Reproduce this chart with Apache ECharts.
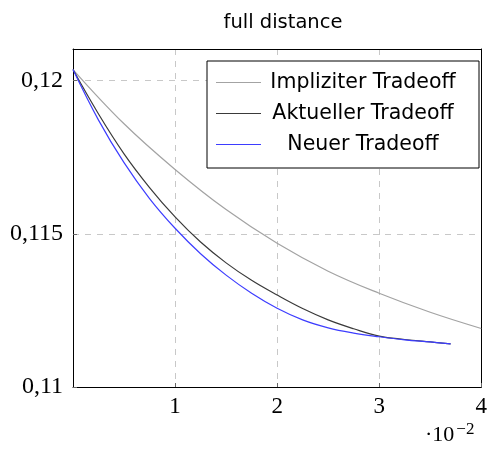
<!DOCTYPE html>
<html>
<head>
<meta charset="utf-8">
<script src="https://cdn.jsdelivr.net/npm/echarts@6/dist/echarts.min.js"></script>
<style>
  html, body { margin: 0; padding: 0; background: #fff; }
  #chart { width: 490px; height: 449px; }
</style>
</head>
<body>
<div id="chart"></div>
<script>
// Tradeoff curves over the full distance (x in units of 10^-2)
const seriesNames = ['Impliziter Tradeoff', 'Aktueller Tradeoff', 'Neuer Tradeoff'];

const impliziterX = [0, 0.005, 0.01, 0.015, 0.02, 0.025, 0.03, 0.035, 0.04];
const impliziterY = [0.12036, 0.11859, 0.11710, 0.11579, 0.11469, 0.11378, 0.11306, 0.11244, 0.11191];

const aktuellerX = [0, 0.0025, 0.005, 0.0075, 0.01, 0.0125, 0.015, 0.0175, 0.02, 0.0225, 0.025, 0.0275, 0.03, 0.0325, 0.035, 0.037];
const aktuellerY = [0.12036, 0.11891, 0.11761, 0.11651, 0.11555, 0.11473, 0.11405, 0.11348, 0.11300, 0.11256, 0.11219, 0.11190, 0.11166, 0.11155, 0.11147, 0.11141];

const neuerX = [0, 0.0025, 0.005, 0.0075, 0.01, 0.0125, 0.015, 0.0175, 0.02, 0.0225, 0.025, 0.0275, 0.03, 0.0325, 0.035, 0.037];
const neuerY = [0.12036, 0.11871, 0.11732, 0.11615, 0.11518, 0.11435, 0.11365, 0.11306, 0.11257, 0.11219, 0.11193, 0.11176, 0.11164, 0.11154, 0.11147, 0.11141];

const yTickValues = [0.11, 0.115, 0.12];
const yTickLabels = ['0,11', '0,115', '0,12'];
const xTickValues = [0.01, 0.02, 0.03, 0.04];
const xTickLabels = ['1', '2', '3', '4'];

const pairs = (xs, ys) => xs.map((x, i) => [x, ys[i]]);

const serifFont = '"Liberation Serif", "DejaVu Serif", serif';
const sansFont = '"DejaVu Sans", "Liberation Sans", sans-serif';
const gridDash = { color: '#c8c8c8', type: [6, 6], width: 1 };

const xRange = { min: 0, max: 0.04, interval: 0.01 };
const yRange = { min: 0.11, max: 0.12103, interval: 0.005 };

const chart = echarts.init(document.getElementById('chart'), null, { renderer: 'canvas' });

function lineSeries(name, data, color) {
  return {
    name: name,
    type: 'line',
    data: data,
    smooth: 0.4,
    symbol: 'none',
    lineStyle: { color: color, width: 1.2 },
    itemStyle: { color: color },
    animation: false
  };
}

// frame axes on the opposite sides: solid line only
function frameAxis(pos, range) {
  return Object.assign({
    type: 'value', position: pos,
    axisLine: { show: true, onZero: false, lineStyle: { color: '#000', width: 1 } },
    axisTick: { show: false }, axisLabel: { show: false }, splitLine: { show: false }
  }, range);
}

chart.setOption({
  animation: false,
  title: {
    text: 'full distance',
    left: 278,
    top: 8,
    textAlign: 'center',
    textStyle: { fontFamily: sansFont, fontSize: 19.5, fontWeight: 'normal', color: '#000' }
  },
  grid: {
    left: 73, top: 49, right: 7, bottom: 62
  },
  legend: {
    orient: 'vertical',
    right: 11,
    top: 61,
    backgroundColor: '#fff',
    borderColor: '#000',
    borderWidth: 1,
    padding: [11, 19, 13, 9],
    icon: 'rect',
    itemWidth: 45,
    itemHeight: 1.2,
    itemGap: 10,
    data: seriesNames,
    formatter: name => '{t|' + name + '}',
    textStyle: {
      rich: {
        t: { fontFamily: sansFont, fontSize: 20.5, lineHeight: 20, color: '#000', width: 194, align: 'center' }
      }
    }
  },
  xAxis: [Object.assign({
    type: 'value',
    position: 'bottom',
    axisLine: { show: true, onZero: false, lineStyle: { color: '#000', width: 1 } },
    axisTick: { show: true, inside: true, length: 4, lineStyle: { color: '#666' } },
    splitLine: { show: true, showMinLine: false, showMaxLine: false, lineStyle: gridDash },
    axisLabel: {
      fontFamily: serifFont, fontSize: 23, color: '#000', margin: 8,
      showMinLabel: false,
      formatter: v => {
        const i = xTickValues.findIndex(t => Math.abs(t - v) < 1e-9);
        return i >= 0 ? xTickLabels[i] : '';
      }
    }
  }, xRange), frameAxis('top', xRange)],
  yAxis: [Object.assign({
    type: 'value',
    position: 'left',
    axisLine: { show: true, onZero: false, lineStyle: { color: '#000', width: 1 } },
    axisTick: { show: true, inside: true, length: 4, lineStyle: { color: '#666' } },
    splitLine: { show: true, showMinLine: false, showMaxLine: false, lineStyle: gridDash },
    axisLabel: {
      fontFamily: serifFont, fontSize: 24, color: '#000', margin: 10,
      showMaxLabel: false,
      formatter: v => {
        const i = yTickValues.findIndex(t => Math.abs(t - v) < 1e-9);
        return i >= 0 ? yTickLabels[i] : '';
      }
    }
  }, yRange), frameAxis('right', yRange)],
  graphic: [{
    type: 'text',
    left: 425,
    top: 421,
    style: {
      text: '·10{s|−2}',
      fontFamily: serifFont,
      fontSize: 22,
      fill: '#000',
      rich: { s: { fontFamily: serifFont, fontSize: 17, verticalAlign: 'top', padding: [0, 0, 11, 2] } }
    }
  }],
  series: [
    lineSeries(seriesNames[0], pairs(impliziterX, impliziterY), '#a3a3a3'),
    lineSeries(seriesNames[1], pairs(aktuellerX, aktuellerY), '#3a3a3a'),
    lineSeries(seriesNames[2], pairs(neuerX, neuerY), '#3d3dff')
  ]
});
</script>
</body>
</html>
